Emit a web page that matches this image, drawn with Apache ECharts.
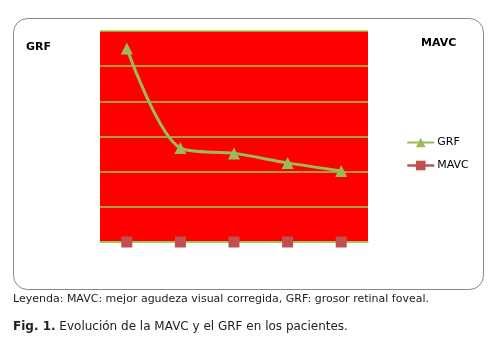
<!DOCTYPE html>
<html><head><meta charset="utf-8">
<script src="https://cdn.jsdelivr.net/npm/echarts@6/dist/echarts.min.js"></script>
<style>html,body{margin:0;padding:0;background:#fff}#c{width:496px;height:340px}</style>
</head><body><div id="c"></div>
<script>
var categories = ['1', '2', '3', '4', '5'];
var grfValues = [5.5, 2.67, 2.52, 2.25, 2.02];
var mavcValues = [0, 0, 0, 0, 0];
var seriesNames = ['GRF', 'MAVC'];
var leftTitle = 'GRF';
var rightTitle = 'MAVC';
var noteText = 'Leyenda: MAVC: mejor agudeza visual corregida, GRF: grosor retinal foveal.';
var figLabel = 'Fig. 1.';
var figText = ' Evolución de la MAVC y el GRF en los pacientes.';

var chart = echarts.init(document.getElementById('c'), null, {renderer: 'canvas'});
var font = 'DejaVu Sans, Verdana, sans-serif';
chart.setOption({
  backgroundColor: '#fff',
  animation: false,
  grid: {left: 100, top: 31, width: 268, height: 211, show: true, backgroundColor: '#FF0000', borderWidth: 0},
  xAxis: {type: 'category', data: categories, boundaryGap: true,
    axisLine: {lineStyle: {color: '#92D050', width: 1.5}}, axisTick: {show: false}, axisLabel: {show: false}},
  yAxis: {type: 'value', min: 0, max: 6, interval: 1,
    axisLine: {show: false}, axisTick: {show: false}, axisLabel: {show: false},
    splitLine: {lineStyle: {color: '#92D050', width: 1.5}}},
  legend: {orient: 'vertical', left: 406, top: 137, padding: 0, itemGap: 12, itemWidth: 27, itemHeight: 12,
    textStyle: {fontFamily: font, fontSize: 11, color: '#000', padding: [0, 0, 0, -2]},
    data: [
      {name: seriesNames[0]},
      {name: seriesNames[1], lineStyle: {opacity: 1, color: '#C0504D', width: 2.5}}
    ]},
  series: [
    {name: seriesNames[0], type: 'line', data: grfValues, smooth: 0.3,
      symbol: 'triangle', symbolSize: 12, color: '#9BBB59',
      lineStyle: {color: '#9BBB59', width: 3}, itemStyle: {color: '#9BBB59'}, z: 5},
    {name: seriesNames[1], type: 'line', data: mavcValues,
      symbol: 'rect', symbolSize: 11, color: '#C0504D',
      lineStyle: {color: '#C0504D', width: 2.5, opacity: 0}, itemStyle: {color: '#C0504D'}, z: 4}
  ],
  graphic: [
    {type: 'rect', shape: {x: 13.5, y: 18.5, width: 470, height: 271, r: 14},
      style: {fill: 'none', stroke: '#888', lineWidth: 1}, z: -10},
    {type: 'text', left: 26, top: 42, style: {text: leftTitle, font: 'bold 11px ' + font, fill: '#000'}},
    {type: 'text', left: 421, top: 38, style: {text: rightTitle, font: 'bold 11px ' + font, fill: '#000'}},
    {type: 'text', left: 13, top: 294, style: {text: noteText, font: '11px ' + font, fill: '#222'}},
    {type: 'text', left: 13, top: 321, style: {text: '{b|' + figLabel + '}{n|' + figText + '}',
      rich: {b: {font: 'bold 12px ' + font, fill: '#222'}, n: {font: '12px ' + font, fill: '#222'}}}}
  ]
});
</script></body></html>
